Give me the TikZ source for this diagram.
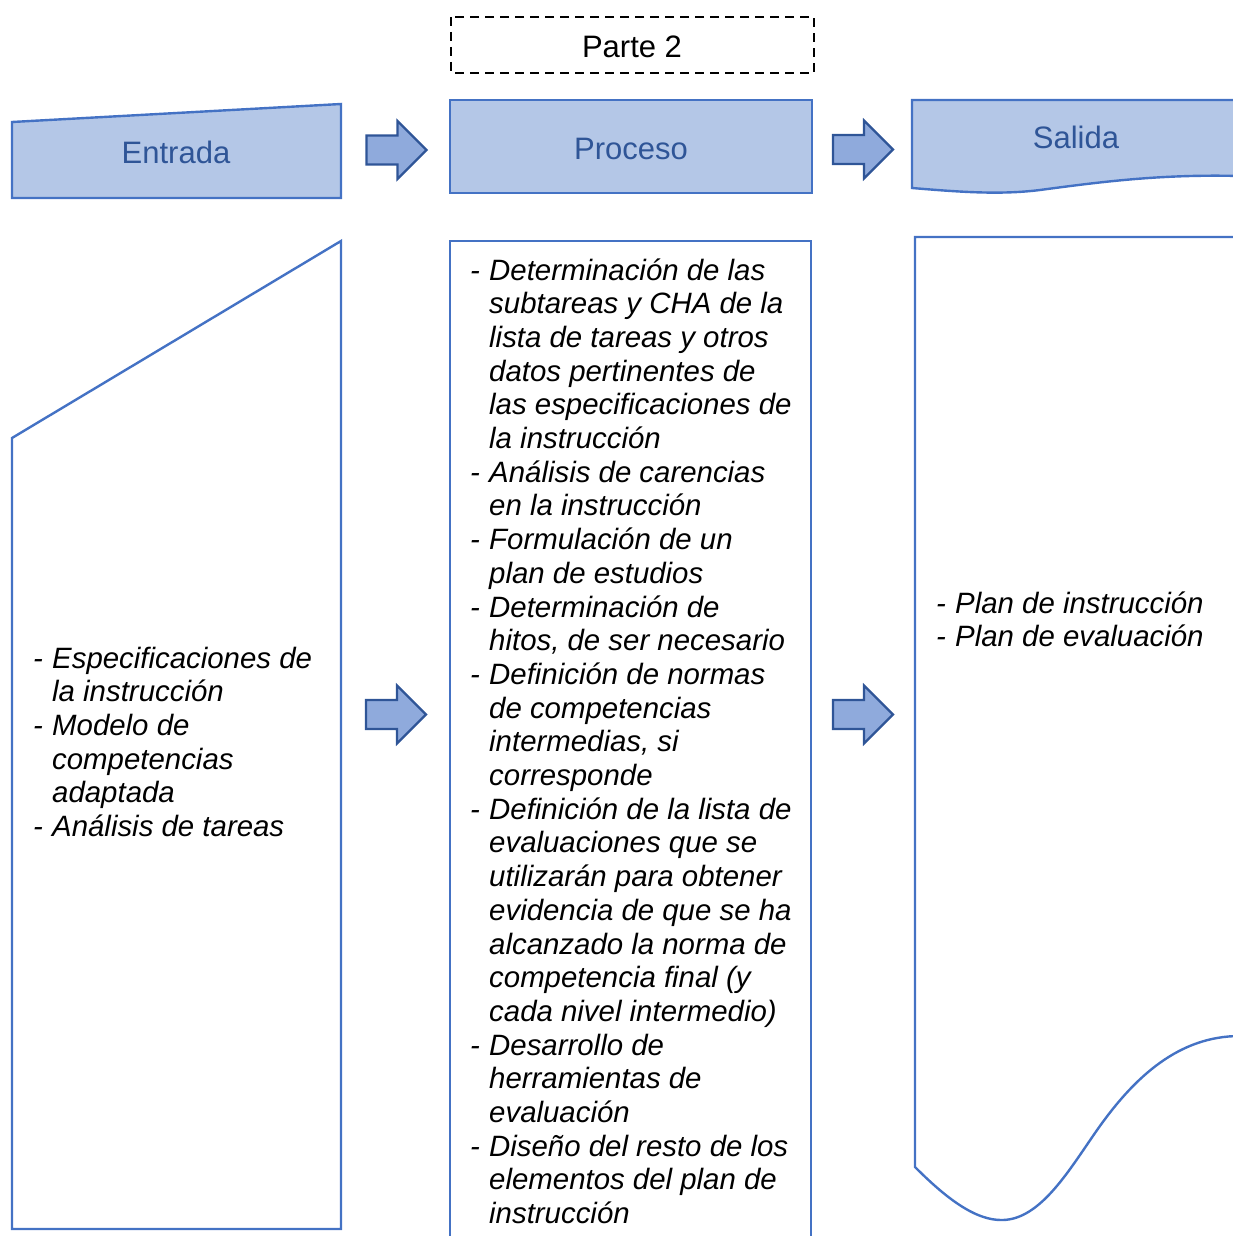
\documentclass[tikz,border=0pt]{standalone}
\usepackage{fontspec}
\setmainfont{Liberation Sans}
\definecolor{hdrfill}{HTML}{B4C7E7}
\definecolor{hdrline}{HTML}{4472C4}
\definecolor{arrfill}{HTML}{8FAADC}
\definecolor{arrline}{HTML}{2F5597}
\definecolor{hdrtext}{HTML}{2F5597}
\newcommand{\dashitem}[1]{\hangindent=19pt\hangafter=1\noindent\makebox[19pt][l]{-}#1\par}
\newcommand{\bodyblock}[2]{\parbox[t]{#1}{\fontsize{29.4}{33.7}\selectfont\itshape\parindent=0pt\parskip=0pt\rightskip=0pt plus 1fil\relax #2}}
\tikzset{
  hdr/.style={draw=hdrline,fill=hdrfill,line width=2.4pt,line join=miter},
  bodyline/.style={draw=hdrline,line width=2.4pt},
  bigarrow/.style={draw=arrline,fill=arrfill,line width=2.2pt,line join=miter},
  hdrlabel/.style={text=hdrtext,font=\fontsize{31}{36}\selectfont,inner sep=0pt,anchor=base},
  bodytext/.style={inner sep=0pt,anchor=base west,text=black}
}
\begin{document}
\begin{tikzpicture}[x=1pt,y=-1pt]
\useasboundingbox (0,0) rectangle (1233,1236);
\clip (0,0) rectangle (1233,1236);

% Parte 2
\draw[black,line width=2.2pt,dash pattern=on 9pt off 6pt] (451,17) rectangle (814,73);
\node[inner sep=0pt,anchor=base,font=\fontsize{31}{36}\selectfont] (parte) at (632,58) {Parte 2};

% Headers
\path[hdr] (12,122) -- (341,104) -- (341,198) -- (12,198) -- cycle;
\node[hdrlabel] (entrada) at (176,163) {Entrada};

\path[hdr] (450,100) rectangle (812,193);
\node[hdrlabel] (proceso) at (631,159) {Proceso};

\path[hdr] (912,100) -- (1240,100) -- (1240,176) .. controls (1160,174) and (1100,182) .. (1040,190)
  .. controls (1000,195) and (960,192) .. (912,188) -- cycle;
\node[hdrlabel] (salida) at (1076,149) {Salida};

% Arrows
\newcommand{\bigarr}[3]{% x, ycenter, name
  \path[bigarrow] (#1,#2-14.5) -- (#1+31,#2-14.5) -- (#1+31,#2-29) -- (#1+60,#2) -- (#1+31,#2+29) -- (#1+31,#2+14.5) -- (#1,#2+14.5) -- cycle;
  \coordinate (#3) at (#1+30,#2);}
\bigarr{366.5}{150}{a1}
\bigarr{833}{149.5}{a2}
\bigarr{366}{714.5}{a3}
\bigarr{833}{714.5}{a4}

% Body shapes
\path[bodyline] (12,438) -- (341,241) -- (341,1229) -- (12,1229) -- cycle;
\path[bodyline] (450,1245) -- (450,241) -- (811,241) -- (811,1245);
\path[bodyline] (1240,237) -- (915,237) -- (915,1167)
  .. controls (945,1197) and (975,1221) .. (1003,1220)
  .. controls (1040,1219) and (1068,1172) .. (1095,1133)
  .. controls (1135,1075) and (1180,1036) .. (1240,1036);

% Texts
\node[bodytext] (tin) at (33,668) {\bodyblock{300pt}{%
\dashitem{Especificaciones de\\la instrucción}
\dashitem{Modelo de\\competencias\\adaptada}
\dashitem{Análisis de tareas}}};

\node[bodytext] (tproc) at (470,280) {\bodyblock{340pt}{%
\dashitem{Determinación de las\\subtareas y CHA de la\\lista de tareas y otros\\datos pertinentes de\\las especificaciones de\\la instrucción}
\dashitem{Análisis de carencias\\en la instrucción}
\dashitem{Formulación de un\\plan de estudios}
\dashitem{Determinación de\\hitos, de ser necesario}
\dashitem{Definición de normas\\de competencias\\intermedias, si\\corresponde}
\dashitem{Definición de la lista de\\evaluaciones que se\\utilizarán para obtener\\evidencia de que se ha\\alcanzado la norma de\\competencia final (y\\cada nivel intermedio)}
\dashitem{Desarrollo de\\herramientas de\\evaluación}
\dashitem{Diseño del resto de los\\elementos del plan de\\instrucción}}};

\node[bodytext] (tout) at (936,613) {\bodyblock{300pt}{%
\dashitem{Plan de instrucción}
\dashitem{Plan de evaluación}}};
\end{tikzpicture}
\end{document}
